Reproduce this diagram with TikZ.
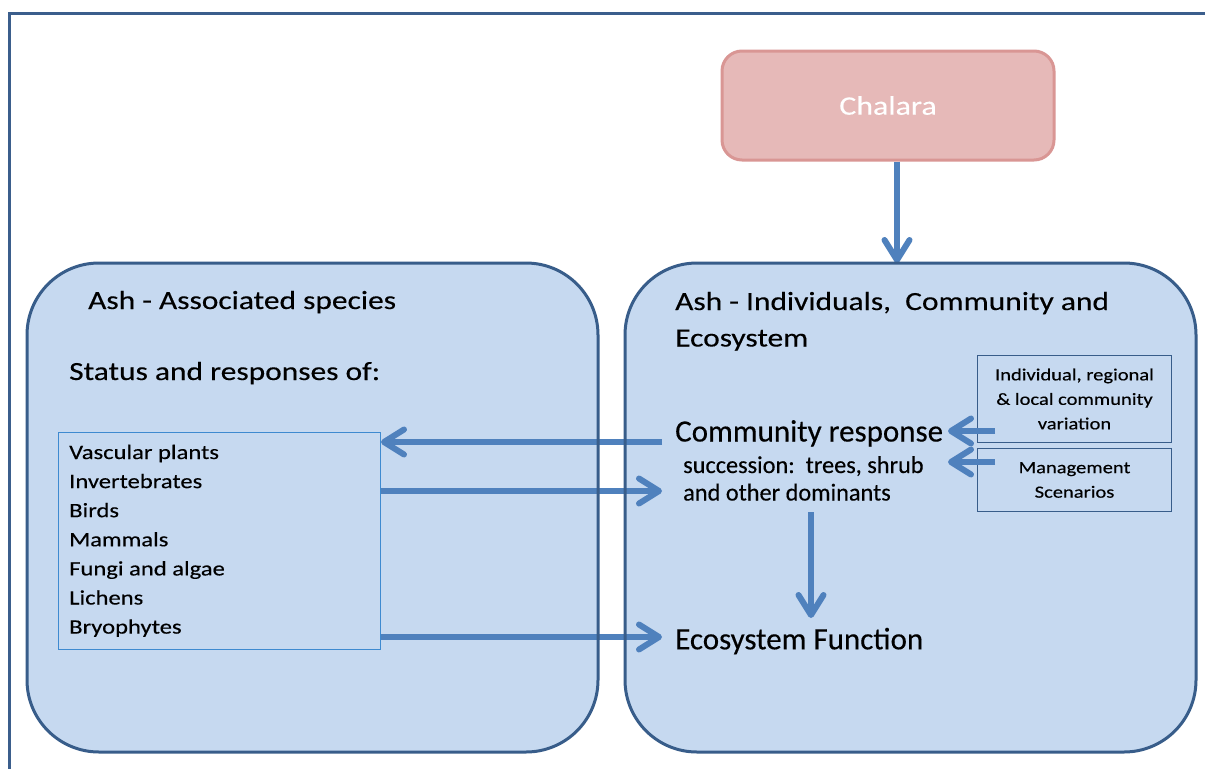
\documentclass[tikz,border=0pt]{standalone}
\usepackage{fontspec}
\setmainfont{Carlito}
\newfontfamily\fA{Carlito}[FakeStretch=1.2,FakeBold=0.3]
\newfontfamily\fB{Carlito}[FakeBold=0.3]
\usetikzlibrary{arrows.meta}
\definecolor{boxfill}{HTML}{C6D9F0}
\definecolor{boxline}{HTML}{385D8A}
\definecolor{arrowc}{HTML}{4F81BD}
\definecolor{framec}{HTML}{3B5E8C}
\definecolor{listline}{HTML}{3E8AD0}
\definecolor{chfill}{HTML}{E6B9B8}
\definecolor{chline}{HTML}{D99694}
\begin{document}
\begin{tikzpicture}[x=1pt,y=-1pt,
  bigbox/.style={fill=boxfill, draw=none, rounded corners=72pt, minimum width=571pt, minimum height=489pt, anchor=north west, inner sep=0pt, outer sep=0pt},
  bigborder/.style={draw=boxline, line width=3pt, rounded corners=72pt},
  chal/.style={fill=chfill, draw=chline, line width=3pt, rounded corners=20pt, minimum width=332pt, minimum height=109pt, text=white, font=\fA\fontsize{26.6}{30}\selectfont},
  listbox/.style={draw=listline, line width=1pt, minimum width=322pt, minimum height=217pt, anchor=north west, inner sep=0pt},
  smallbox/.style={draw=boxline, line width=1pt, minimum width=194pt, anchor=north west, inner sep=0pt, align=center, font=\fA\fontsize{17.1}{24.5}\selectfont},
  txt/.style={anchor=base west, inner sep=0pt, text=black},
  ttl/.style={txt, font=\fA\fontsize{26.2}{37}\selectfont},
  big/.style={txt, font=\fB\fontsize{31}{36}\selectfont},
  sub/.style={txt, font=\fB\fontsize{24.3}{28}\selectfont},
  item/.style={txt, font=\fA\fontsize{20.5}{24}\selectfont},
  arr/.style={draw=arrowc, line width=6pt, -{Straight Barb[length=20pt,width=25pt,round]}}
]
\useasboundingbox (0,0) rectangle (1205,769);
\fill[white] (0,0) rectangle (1205,769);
% outer frame
\draw[framec, line width=3pt] (1205,13) -- (9,13) -- (9,769);

% main boxes (fill)
\node[bigbox] (L) at (27,263) {};
\node[bigbox] (R) at (625,263) {};

% Chalara
\node[chal] (ch) at (888,105.5) {Chalara};

% left box texts
\node[ttl] (ltitle) at (88,309) {Ash - Associated species};
\node[ttl] (status) at (69,380) {Status and responses of:};
\node[listbox] (list) at (58,432) {};
\foreach \t [count=\i] in {Vascular plants, Invertebrates, Birds, Mammals, Fungi and algae, Lichens, Bryophytes}
  \node[item] (item\i) at (69,{459+29.1*(\i-1)}) {\t};

% right box texts
\node[ttl] (rtitle1) at (675,310) {Ash - Individuals,\ \ Community and};
\node[ttl] (rtitle2) at (675,346.5) {Ecosystem};
\node[big] (cr) at (675,441.5) {Community response};
\node[sub] (succ1) at (683,473) {succession:\ \ trees, shrub};
\node[sub] (succ2) at (683,500.5) {and other dominants};
\node[big] (ef) at (675,649.3) {Ecosystem Function};

% small boxes
\node[smallbox, minimum height=87pt] (ind) at (977,355) {Individual, regional\\\& local community\\variation};
\node[smallbox, minimum height=63pt] (man) at (977,448) {Management\\Scenarios};

% arrows
\coordinate (c1) at (897,0);
\draw[arr] (c1 |- ch.south) -- (c1 |- R.north);
\coordinate (a1) at (662,442);
\draw[arr] (a1) -- (a1 -| list.east);
\coordinate (a2) at (662,491);
\draw[arr] (a2 -| list.east) -- (a2);
\coordinate (a3) at (662,637);
\draw[arr] (a3 -| list.east) -- (a3);
\coordinate (d1) at (811,512);
\coordinate (d2) at (811,618);
\draw[arr] (d1) -- (d2);
\coordinate (s1) at (995,431);
\coordinate (s1t) at (948,431);
\draw[arr] (s1) -- (s1t);
\coordinate (s2) at (995,462);
\coordinate (s2t) at (948,462);
\draw[arr] (s2) -- (s2t);

% main box borders on top
\draw[bigborder] (L.south west) rectangle (L.north east);
\draw[bigborder] (R.south west) rectangle (R.north east);
\end{tikzpicture}
\end{document}
